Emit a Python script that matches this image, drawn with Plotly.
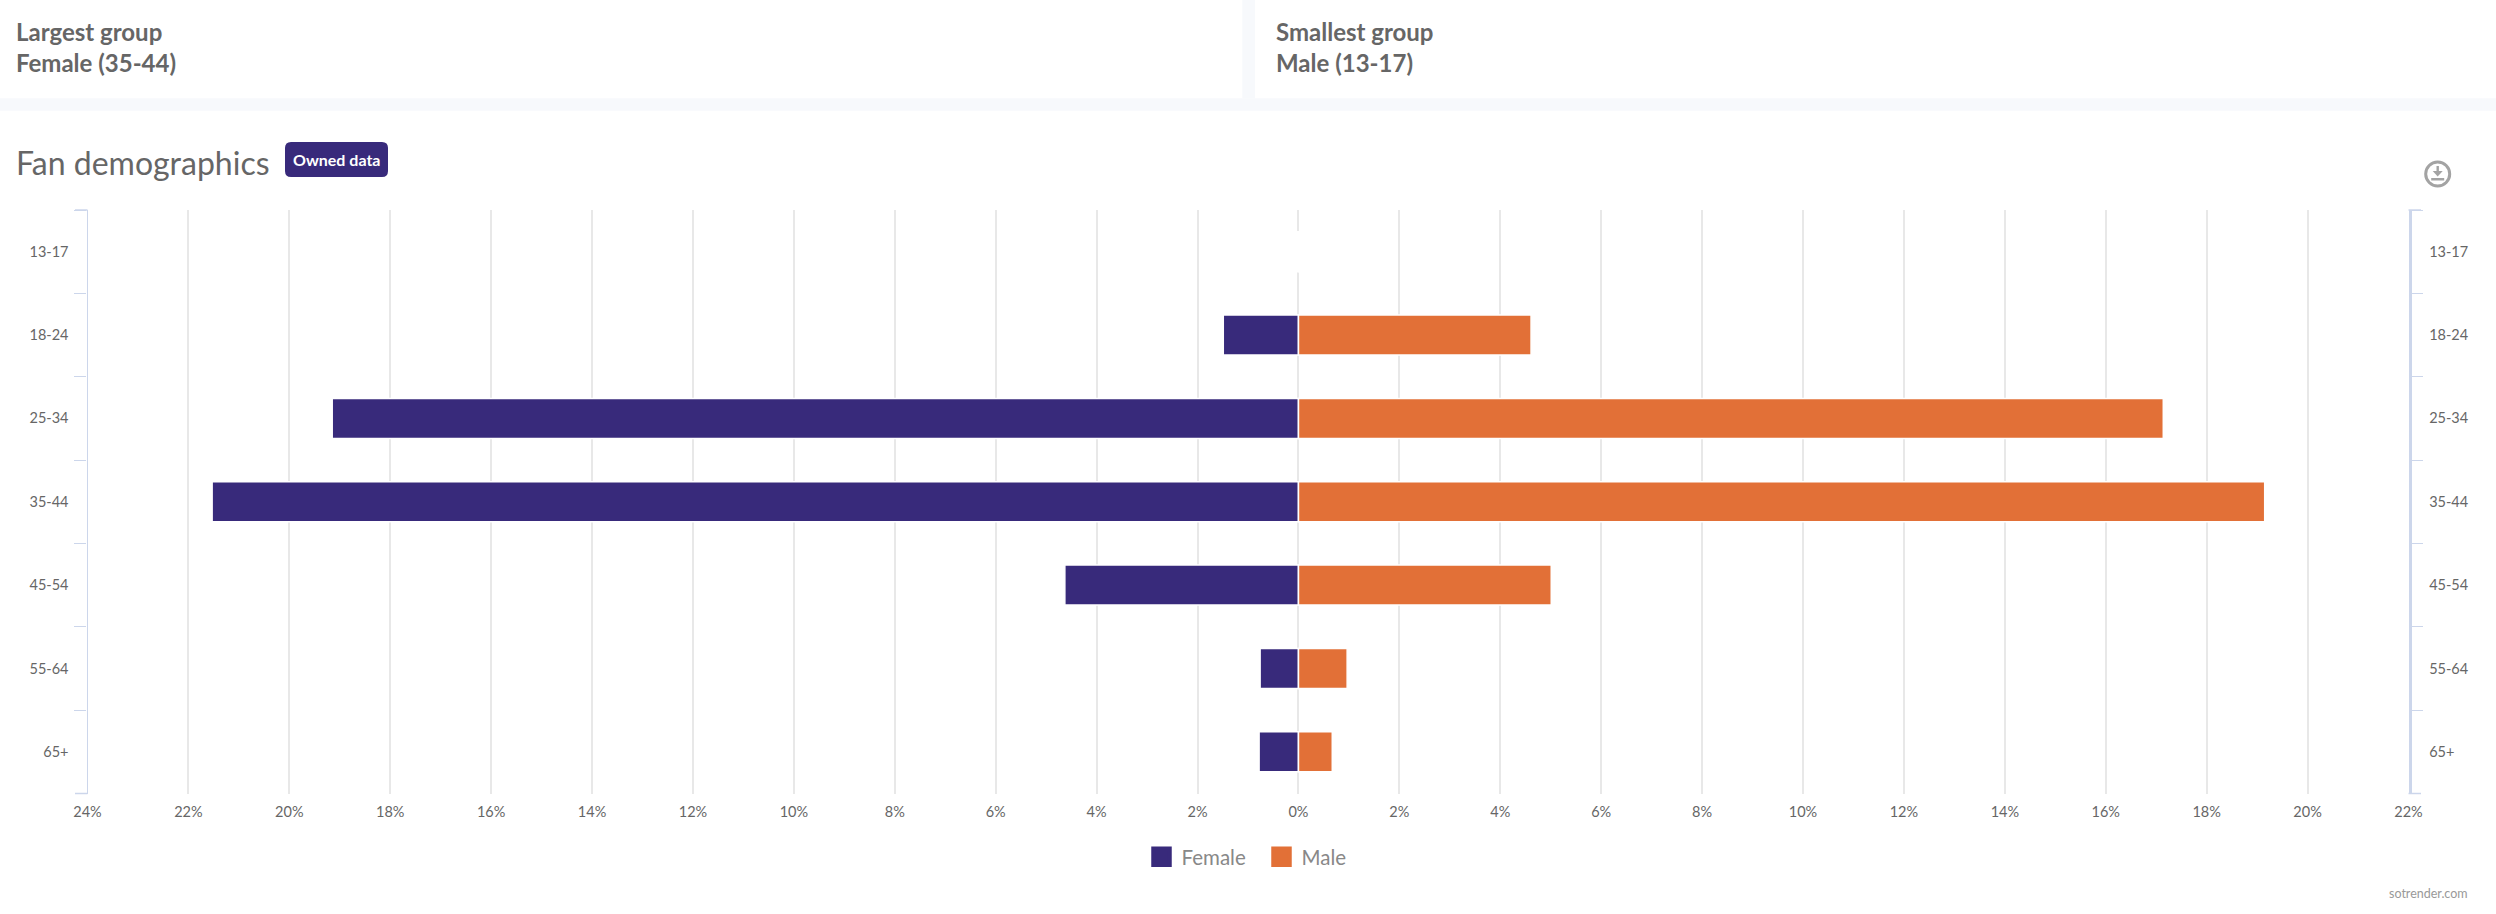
import plotly.graph_objects as go

W, H = 2496, 914
age_groups = ["13-17", "18-24", "25-34", "35-44", "45-54", "55-64", "65+"]
female_pct = [0.02, 1.49, 19.15, 21.53, 4.63, 0.76, 0.78]
male_pct = [0.01, 4.61, 17.14, 19.15, 5.01, 0.965, 0.67]
x_ticks = list(range(-24, 23, 2))
x_labels = [f"{abs(v)}%" for v in x_ticks]

PURPLE = "#382a7b"
ORANGE = "#e27037"
TEXT = "#666666"
AXIS = "#ccd6eb"
GRID = "#e8e8e8"
STRIP = "#f7f9fc"
FONT = "Lato"


def px(v):
    return v / W


def py(v):
    return 1 - v / H


fig = go.Figure()
fig.add_bar(
    y=age_groups, x=[-v for v in female_pct], orientation="h", name="Female",
    marker=dict(color=PURPLE, line=dict(color="white", width=1.5)),
    xaxis="x", yaxis="y", showlegend=False,
    customdata=female_pct, hovertemplate="%{y}: %{customdata}%<extra>Female</extra>",
)
fig.add_bar(
    y=age_groups, x=male_pct, orientation="h", name="Male",
    marker=dict(color=ORANGE, line=dict(color="white", width=1.5)),
    xaxis="x", yaxis="y2", showlegend=False,
    hovertemplate="%{y}: %{x}%<extra>Male</extra>",
)
# Legend keys: large square swatches like the original
for name, col in (("Female", PURPLE), ("Male", ORANGE)):
    fig.add_scatter(
        x=[None], y=[None], mode="markers", name=name, xaxis="x", yaxis="y",
        marker=dict(symbol="square", size=16, color=col, line=dict(color=col, width=4.5)),
    )

cat_axis = dict(
    type="category", categoryorder="array", categoryarray=age_groups,
    autorange=False, range=[6.5, -0.5],
    domain=[py(793.5), py(210)],
    tickson="boundaries", ticks="outside", ticklen=12, tickwidth=1, tickcolor=AXIS,
    showline=True, linecolor=AXIS, showgrid=False, zeroline=False,
    tickfont=dict(family=FONT, size=14.5, color=TEXT), ticklabelstandoff=15,
)

shapes = [
    dict(type="rect", xref="paper", yref="paper", layer="below", line_width=0, fillcolor=STRIP,
         x0=0, x1=1, y0=py(110.7), y1=py(98.3)),
    dict(type="rect", xref="paper", yref="paper", layer="below", line_width=0, fillcolor=STRIP,
         x0=px(1242.3), x1=px(1255), y0=py(98.3), y1=py(0)),
]

# Closing ticks at the two ends of both category axes
for ax0, ax1 in ((75, 87.5), (2408.5, 2421)):
    for edge in (0, 1):
        shapes.append(dict(type="line", xref="paper", yref="y domain", x0=px(ax0), x1=px(ax1), y0=edge, y1=edge,
                           line=dict(color=AXIS, width=1.5)))


def rounded(x0, y0, x1, y1, r):
    return (f"M{px(x0 + r)},{py(y0)} L{px(x1 - r)},{py(y0)} Q{px(x1)},{py(y0)} {px(x1)},{py(y0 + r)} "
            f"L{px(x1)},{py(y1 - r)} Q{px(x1)},{py(y1)} {px(x1 - r)},{py(y1)} "
            f"L{px(x0 + r)},{py(y1)} Q{px(x0)},{py(y1)} {px(x0)},{py(y1 - r)} "
            f"L{px(x0)},{py(y0 + r)} Q{px(x0)},{py(y0)} {px(x0 + r)},{py(y0)} Z")


shapes.append(dict(type="path", xref="paper", yref="paper", path=rounded(285, 142, 388, 177, 6),
                   fillcolor=PURPLE, line_width=0))
# Download icon
ICON = "#a3a3a3"
cx, cy = 2437.7, 174
shapes += [
    dict(type="circle", xref="paper", yref="paper", x0=px(cx - 12), x1=px(cx + 12), y0=py(cy + 12), y1=py(cy - 12),
         line=dict(color=ICON, width=3), fillcolor="rgba(0,0,0,0)"),
    dict(type="rect", xref="paper", yref="paper", x0=px(cx - 6.5), x1=px(cx + 6.5), y0=py(cy + 6.5), y1=py(cy + 4),
         fillcolor=ICON, line_width=0),
    dict(type="rect", xref="paper", yref="paper", x0=px(cx - 1.2), x1=px(cx + 1.2), y0=py(cy - 0), y1=py(cy - 8),
         fillcolor=ICON, line_width=0),
    dict(type="path", xref="paper", yref="paper",
         path=f"M{px(cx - 5)},{py(cy - 3)} L{px(cx + 5)},{py(cy - 3)} L{px(cx)},{py(cy + 2.5)} Z",
         fillcolor=ICON, line_width=0),
]


def label(text, x, y, size, color=TEXT, anchor="left", family=FONT):
    return dict(text=text, xref="paper", yref="paper", x=px(x), y=py(y), xanchor=anchor, yanchor="middle",
                showarrow=False, font=dict(family=family, size=size, color=color), borderpad=0, borderwidth=0)


annotations = [
    label("<b>Largest group</b>", 16, 31, 24),
    label("<b>Female (35-44)</b>", 16, 63, 24),
    label("<b>Smallest group</b>", 1276, 31, 24),
    label("<b>Male (13-17)</b>", 1276, 63, 24),
    label("Fan demographics", 16, 162, 32),
    label("<b>Owned data</b>", 336.5, 159.5, 16, "white", "center"),
    label("sotrender.com", 2468, 893, 12.5, "#999999", "right"),
]

fig.update_layout(
    width=W, height=H, margin=dict(l=0, r=0, t=0, b=0, autoexpand=False),
    paper_bgcolor="white", plot_bgcolor="rgba(0,0,0,0)",
    bargap=0.52, barmode="overlay",
    font=dict(family=FONT, color=TEXT),
    xaxis=dict(
        domain=[px(87.5), px(2408.5)], range=[-24, 22], tickmode="array", tickvals=x_ticks, ticktext=x_labels,
        showgrid=True, gridcolor=GRID, gridwidth=1.5, zeroline=False, showline=False, ticks="", anchor="y",
        tickfont=dict(family=FONT, size=14.5, color=TEXT), ticklabelstandoff=8,
    ),
    yaxis=dict(side="left", anchor="x", linewidth=1.2, **cat_axis),
    yaxis2=dict(side="right", anchor="x", overlaying="y", linewidth=2.5, **cat_axis),
    legend=dict(
        orientation="h", x=px(1141.5), xanchor="left", y=py(857), yanchor="middle",
        font=dict(family=FONT, size=20.5, color="#888888"),
        entrywidth=75, entrywidthmode="pixels", itemclick=False, itemdoubleclick=False,
        bgcolor="rgba(0,0,0,0)", borderwidth=0, traceorder="normal",
    ),
    shapes=shapes, annotations=annotations,
    hovermode="closest",
)

fig.write_html("out.html", post_script="document.body.style.margin='0';", config={"displayModeBar": False})
